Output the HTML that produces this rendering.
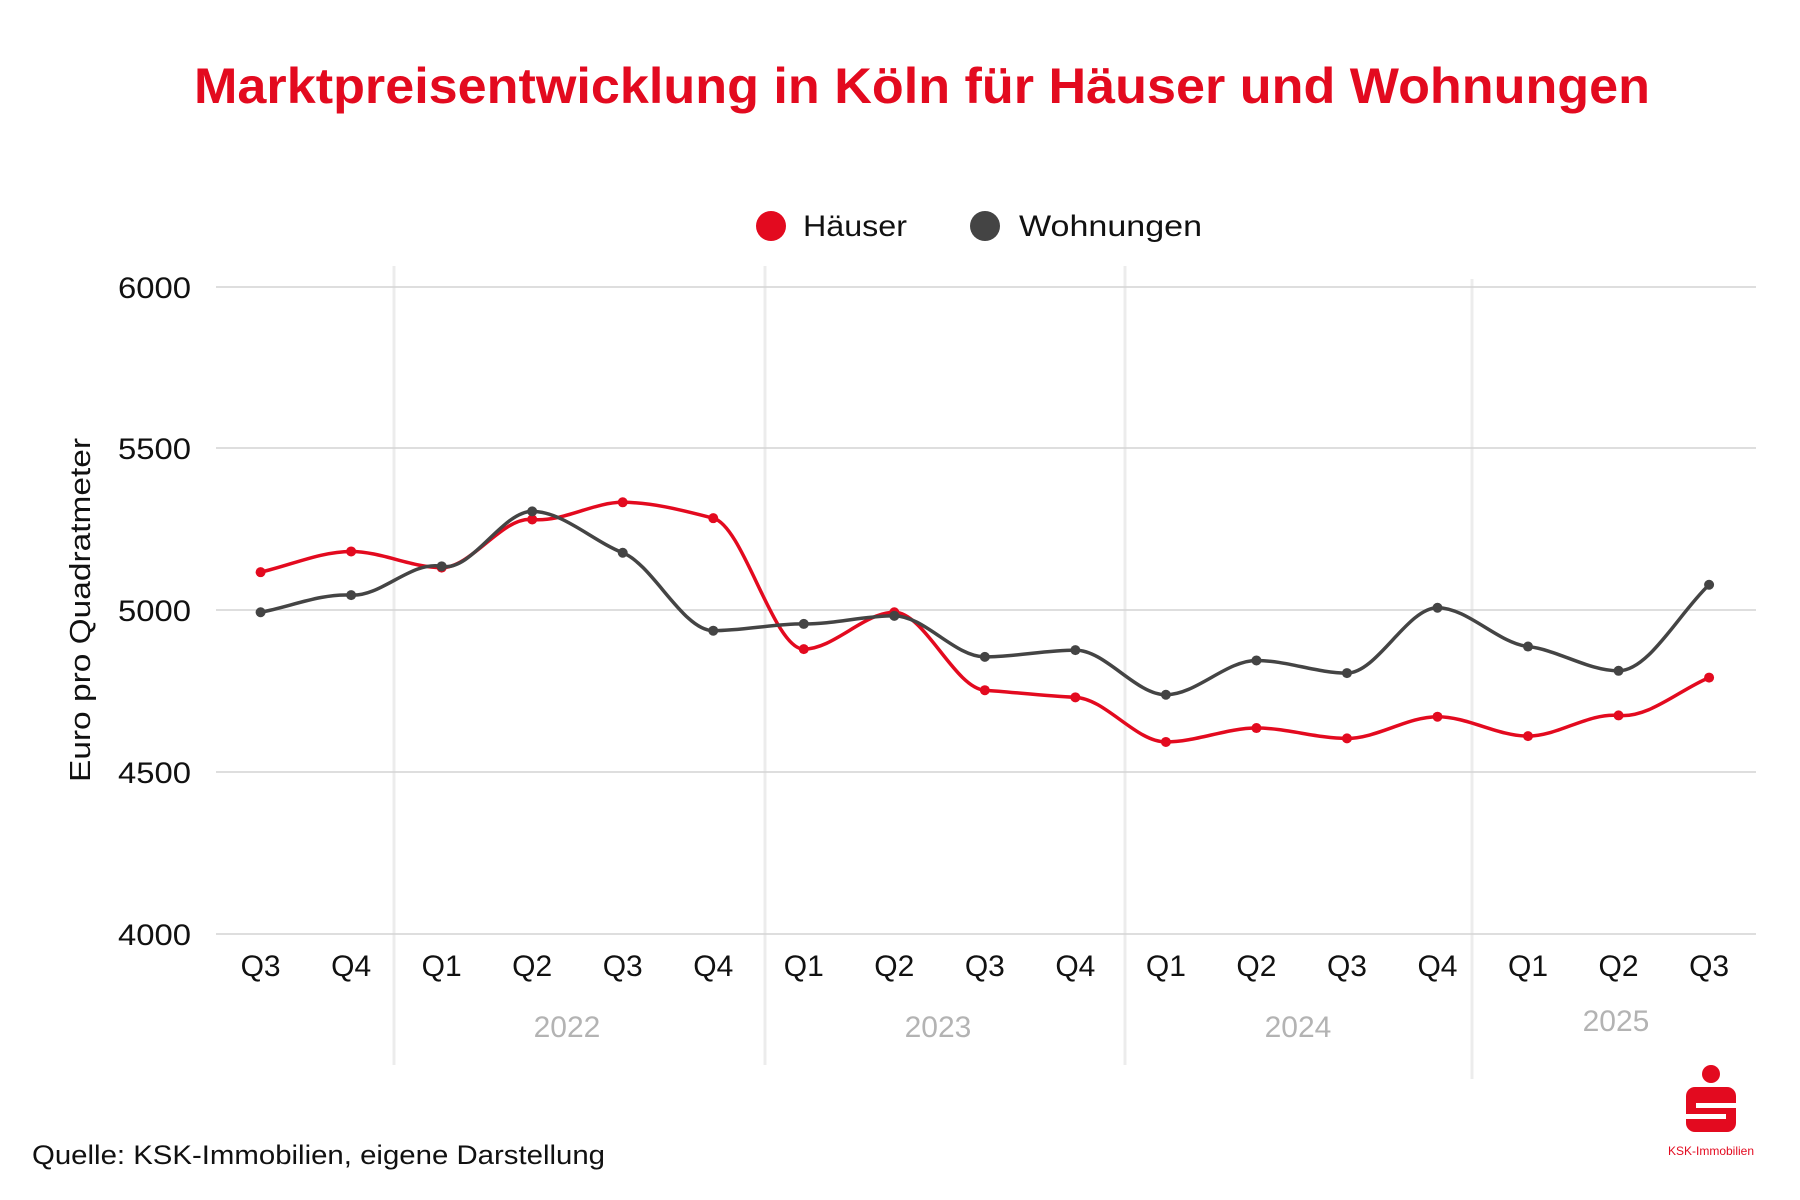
<!DOCTYPE html>
<html><head><meta charset="utf-8"><style>
body{margin:0;background:#fff;}
svg{display:block;font-family:"Liberation Sans",sans-serif;}
</style></head><body>
<svg id="s" width="1800" height="1200" viewBox="0 0 1800 1200" xmlns="http://www.w3.org/2000/svg">
<rect width="1800" height="1200" fill="#fff"/>
<text x="922" y="103" text-anchor="middle" font-size="50" font-weight="bold" fill="#e30a1f" textLength="1456" lengthAdjust="spacingAndGlyphs">Marktpreisentwicklung in Köln für Häuser und Wohnungen</text>
<circle cx="771" cy="226" r="15" fill="#e30a1f"/>
<text x="803" y="236" font-size="30" fill="#111" textLength="104" lengthAdjust="spacingAndGlyphs">Häuser</text>
<circle cx="985" cy="226" r="15" fill="#444"/>
<text x="1019" y="236" font-size="30" fill="#111" textLength="183" lengthAdjust="spacingAndGlyphs">Wohnungen</text>
<g stroke="#ececec" stroke-width="3">
<line x1="394" y1="266" x2="394" y2="1065"/>
<line x1="765" y1="266" x2="765" y2="1065"/>
<line x1="1125" y1="266" x2="1125" y2="1065"/>
<line x1="1472" y1="279" x2="1472" y2="1079"/>
</g>
<g stroke="#d4d4d4" stroke-width="1.5">
<line x1="216" y1="287" x2="1756" y2="287"/>
<line x1="216" y1="448" x2="1756" y2="448"/>
<line x1="216" y1="610" x2="1756" y2="610"/>
<line x1="216" y1="772" x2="1756" y2="772"/>
<line x1="216" y1="934" x2="1756" y2="934"/>
</g>
<g font-size="30" fill="#111" text-anchor="end">
<text x="191" y="298" textLength="73" lengthAdjust="spacingAndGlyphs">6000</text>
<text x="191" y="459" textLength="73" lengthAdjust="spacingAndGlyphs">5500</text>
<text x="191" y="621" textLength="73" lengthAdjust="spacingAndGlyphs">5000</text>
<text x="191" y="783" textLength="73" lengthAdjust="spacingAndGlyphs">4500</text>
<text x="191" y="945" textLength="73" lengthAdjust="spacingAndGlyphs">4000</text>
</g>
<text transform="translate(90,610) rotate(-90)" font-size="29" fill="#111" text-anchor="middle" textLength="344" lengthAdjust="spacingAndGlyphs">Euro pro Quadratmeter</text>
<g id="q" font-size="30" fill="#111" text-anchor="middle"></g>
<g font-size="30" fill="#b3b3b3" text-anchor="middle">
<text x="567" y="1037">2022</text>
<text x="938" y="1037">2023</text>
<text x="1298" y="1037">2024</text>
<text x="1616" y="1031">2025</text>
</g>
<g id="lines"></g>
<text x="32" y="1164" font-size="27" fill="#111" textLength="573" lengthAdjust="spacingAndGlyphs">Quelle: KSK-Immobilien, eigene Darstellung</text>
<circle cx="1711" cy="1074" r="9" fill="#e30a1f"/>
<rect x="1686" y="1087" width="50" height="45" rx="9" fill="#e30a1f"/>
<rect x="1696" y="1103" width="40" height="5" fill="#fff"/>
<rect x="1686" y="1114" width="40" height="5" fill="#fff"/>
<text x="1711" y="1155" font-size="12" fill="#e30a1f" text-anchor="middle">KSK-Immobilien</text>
</svg>
<script>
var NS="http://www.w3.org/2000/svg";
var labels=["Q3","Q4","Q1","Q2","Q3","Q4","Q1","Q2","Q3","Q4","Q1","Q2","Q3","Q4","Q1","Q2","Q3"];
var X=function(i){return 260.6+i*90.53;};
var Y=function(v){return 610-(v-5000)*0.3234;};
var q=document.getElementById("q");
labels.forEach(function(l,i){var t=document.createElementNS(NS,"text");t.setAttribute("x",X(i));t.setAttribute("y",976);t.textContent=l;q.appendChild(t);});
var H=[5117,5181,5131,5280,5333,5284,4879,4993,4752,4730,4592,4635,4603,4670,4610,4674,4791];
var W=[4993,5046,5135,5305,5177,4936,4957,4982,4855,4876,4738,4844,4805,5007,4887,4812,5078];
function mono(xs,ys){var n=xs.length,d=[],m=[];
for(var i=0;i<n-1;i++)d.push((ys[i+1]-ys[i])/(xs[i+1]-xs[i]));
m[0]=d[0];m[n-1]=d[n-2];
for(i=1;i<n-1;i++){if(d[i-1]*d[i]<=0)m[i]=0;else{m[i]=3*(d[i-1]+d[i])/((2/d[i-1]+1/d[i])+(1/d[i-1]+2/d[i]));}}
var p="M"+xs[0]+","+ys[0];
for(i=0;i<n-1;i++){var h=(xs[i+1]-xs[i])/3;p+=" C"+(xs[i]+h)+","+(ys[i]+m[i]*h)+" "+(xs[i+1]-h)+","+(ys[i+1]-m[i+1]*h)+" "+xs[i+1]+","+ys[i+1];}
return p;}
var g=document.getElementById("lines");
[[H,"#e30a1f"],[W,"#444"]].forEach(function(s){
var xs=s[0].map(function(v,i){return X(i);}),ys=s[0].map(Y);
var p=document.createElementNS(NS,"path");p.setAttribute("d",mono(xs,ys));p.setAttribute("fill","none");p.setAttribute("stroke",s[1]);p.setAttribute("stroke-width","3.5");g.appendChild(p);
xs.forEach(function(x,i){var c=document.createElementNS(NS,"circle");c.setAttribute("cx",x);c.setAttribute("cy",ys[i]);c.setAttribute("r","5");c.setAttribute("fill",s[1]);g.appendChild(c);});
});
</script>
</body></html>
